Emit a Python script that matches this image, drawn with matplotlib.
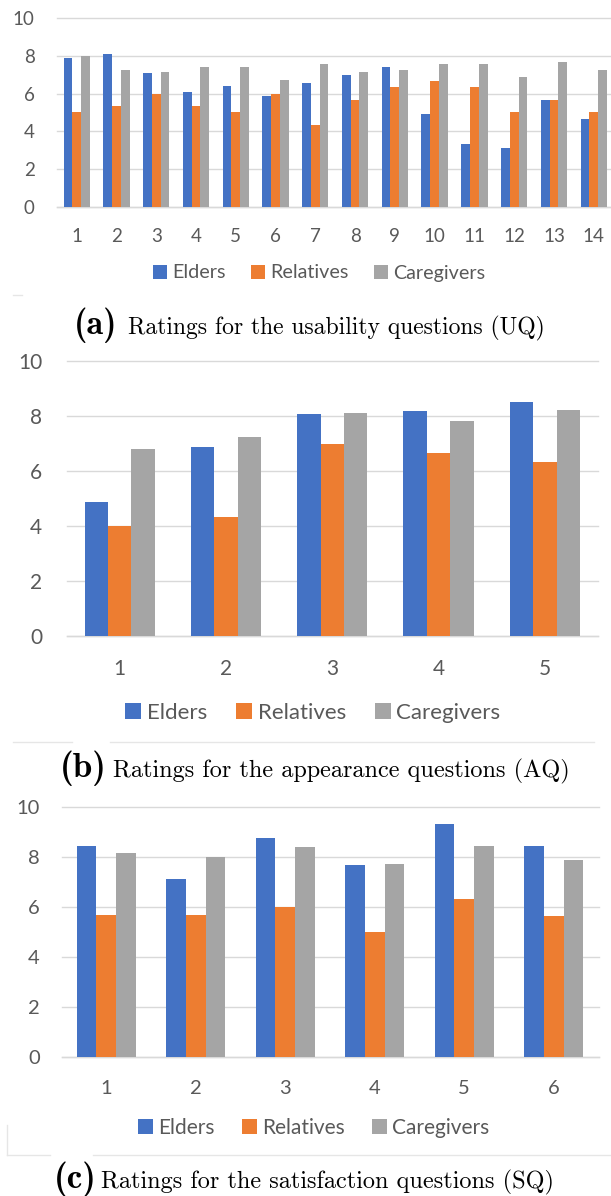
import matplotlib
matplotlib.use("Agg")
import matplotlib.pyplot as plt
import numpy as np
from matplotlib.lines import Line2D

plt.rcParams['font.family'] = ['Lato', 'DejaVu Sans']

groups = ['Elders', 'Relatives', 'Caregivers']
colors = ['#4472C4', '#ED7D31', '#A5A5A5']

# (a) usability questions
uq_labels = [str(i) for i in range(1, 15)]
uq_elders = [7.88, 8.1, 7.1, 6.1, 6.42, 5.88, 6.55, 7.0, 7.43, 4.9, 3.33, 3.13, 5.68, 4.65]
uq_relatives = [5.0, 5.33, 6.0, 5.33, 5.0, 6.0, 4.34, 5.68, 6.34, 6.67, 6.34, 5.0, 5.68, 5.0]
uq_caregivers = [8.0, 7.27, 7.13, 7.42, 7.42, 6.73, 7.56, 7.13, 7.27, 7.56, 7.56, 6.87, 7.7, 7.27]

# (b) appearance questions
aq_labels = ['1', '2', '3', '4', '5']
aq_elders = [4.87, 6.86, 8.08, 8.18, 8.5]
aq_relatives = [4.0, 4.31, 6.97, 6.65, 6.31]
aq_caregivers = [6.8, 7.25, 8.1, 7.81, 8.23]

# (c) satisfaction questions
sq_labels = ['1', '2', '3', '4', '5', '6']
sq_elders = [8.44, 7.09, 8.76, 7.65, 9.32, 8.44]
sq_relatives = [5.65, 5.65, 6.0, 5.0, 6.32, 5.64]
sq_caregivers = [8.15, 7.97, 8.4, 7.72, 8.41, 7.85]

W, H = 611, 1196
fig = plt.figure(figsize=(W / 100, H / 100), dpi=100)


def px_axes(left, top, right, bottom):
    return fig.add_axes([left / W, 1 - bottom / H, (right - left) / W, (bottom - top) / H])


def panel(ax, labels, series, fs, xpad, ypad):
    x = np.arange(len(labels))
    bw = 0.22
    bars = []
    for k, vals in enumerate(series):
        b = ax.bar(x + (k - 1) * bw, vals, bw, color=colors[k], label=groups[k], zorder=3)
        bars.append(b)
    ax.set_xlim(-0.5, len(labels) - 0.5)
    ax.set_ylim(0, 10)
    ax.set_yticks([0, 2, 4, 6, 8, 10])
    ax.set_xticks(x)
    ax.set_xticklabels(labels)
    ax.grid(axis='y', color='#D9D9D9', linewidth=1.0, zorder=0, clip_on=False)
    for s in ['top', 'right', 'left']:
        ax.spines[s].set_visible(False)
    ax.spines['bottom'].set_color('#D9D9D9')
    ax.spines['bottom'].set_linewidth(1.0)
    ax.tick_params(axis='both', length=0, labelsize=fs, labelcolor='#595959')
    ax.tick_params(axis='x', pad=xpad)
    ax.tick_params(axis='y', pad=ypad)
    return bars


def legend_at(bars, cx, cy, fs):
    fig.legend(bars, groups, loc='center', bbox_to_anchor=(cx / W, 1 - cy / H), ncol=3,
               frameon=False, fontsize=fs, handlelength=0.72, handleheight=0.72,
               handletextpad=0.25, columnspacing=1.3, borderpad=0, labelcolor='#595959')


def caption(tag, text, tag_right, text_left, y_base, fs):
    fig.text(tag_right / W, 1 - y_base / H, tag, ha='right', va='baseline',
             fontfamily='cmb10', fontsize=fs * 1.45)
    fig.text(text_left / W, 1 - y_base / H, text, ha='left', va='baseline',
             fontfamily='cmr10', fontsize=fs)


# panel (a)
ax1 = px_axes(56.8, 18.3, 56.8 + 14 * 39.77, 206.7)
b1 = panel(ax1, uq_labels, [uq_elders, uq_relatives, uq_caregivers], 13.5, 15, 16)
legend_at(b1, 319, 273, 14.2)
caption('(a)', 'Ratings for the usability questions (UQ)', 117, 128, 334, 17)

# panel (b)
ax2 = px_axes(66.5, 361, 598, 635.7)
b2 = panel(ax2, aq_labels, [aq_elders, aq_relatives, aq_caregivers], 15, 17, 17.5)
legend_at(b2, 313, 713, 16)
caption('(b)', 'Ratings for the appearance questions (AQ)', 107, 113, 777, 17.5)

# panel (c)
ax3 = px_axes(61.5, 806.7, 598.5, 1056.7)
b3 = panel(ax3, sq_labels, [sq_elders, sq_relatives, sq_caregivers], 14.5, 17, 15.5)
legend_at(b3, 314, 1128, 15)
caption('(c)', 'Ratings for the satisfaction questions (SQ)', 97, 101, 1188, 17.5)

# faint frame edges of the pasted chart images
edge = '#E6E6E6'
for xs, ys in [([13, 22], [295, 295]),
               ([13, 72], [742, 742]), ([110, 594], [742, 742]),
               ([7, 7], [1125, 1155]), ([7, 50], [1155, 1155]), ([93, 611], [1155, 1155])]:
    fig.add_artist(Line2D([x / W for x in xs], [1 - y / H for y in ys], color=edge, linewidth=1.0))

fig.savefig('out.png', dpi=100)
